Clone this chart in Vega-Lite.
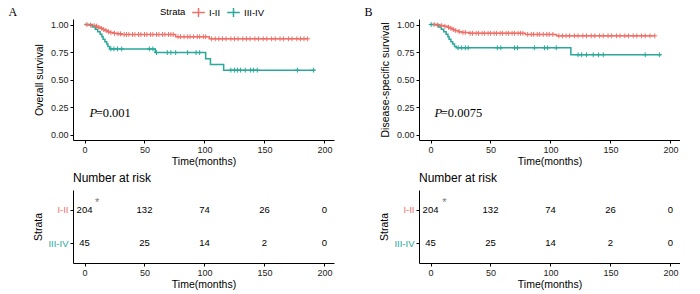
{
  "$schema": "https://vega.github.io/schema/vega-lite/v6.json",
  "background": "white",
  "padding": {"left": 8, "top": 5, "right": 0, "bottom": 0},
  "config": {
    "view": {"stroke": null},
    "font": "Liberation Sans",
    "axis": {"grid": false, "domainColor": "#000", "tickColor": "#000", "labelColor": "#222", "labelFontSize": 9, "titleFontSize": 10.5, "titleFontWeight": "normal", "titleColor": "#000", "tickSize": 3, "labelPadding": 2, "domainWidth": 1, "tickWidth": 1},
    "title": {"fontWeight": "normal", "color": "#000"}
  },
  "datasets": {
    "kmA": [
      {"t": 0, "s": 1.0, "strata": "I-II"}, {"t": 3, "s": 0.995, "strata": "I-II"}, {"t": 6, "s": 0.99, "strata": "I-II"}, {"t": 9, "s": 0.985, "strata": "I-II"}, {"t": 11, "s": 0.975, "strata": "I-II"}, {"t": 13, "s": 0.965, "strata": "I-II"}, {"t": 15, "s": 0.955, "strata": "I-II"}, {"t": 17, "s": 0.945, "strata": "I-II"}, {"t": 19, "s": 0.935, "strata": "I-II"}, {"t": 21, "s": 0.927, "strata": "I-II"}, {"t": 24, "s": 0.92, "strata": "I-II"}, {"t": 27, "s": 0.915, "strata": "I-II"}, {"t": 31, "s": 0.909, "strata": "I-II"}, {"t": 76, "s": 0.889, "strata": "I-II"}, {"t": 104, "s": 0.87, "strata": "I-II"}, {"t": 186, "s": 0.87, "strata": "I-II"},
      {"t": 0, "s": 1.0, "strata": "III-IV"}, {"t": 6.5, "s": 0.978, "strata": "III-IV"}, {"t": 9, "s": 0.956, "strata": "III-IV"}, {"t": 11, "s": 0.933, "strata": "III-IV"}, {"t": 13, "s": 0.911, "strata": "III-IV"}, {"t": 14.5, "s": 0.889, "strata": "III-IV"}, {"t": 15.5, "s": 0.867, "strata": "III-IV"}, {"t": 17, "s": 0.844, "strata": "III-IV"}, {"t": 18.5, "s": 0.822, "strata": "III-IV"}, {"t": 19.5, "s": 0.8, "strata": "III-IV"}, {"t": 21, "s": 0.778, "strata": "III-IV"}, {"t": 59, "s": 0.745, "strata": "III-IV"}, {"t": 101, "s": 0.688, "strata": "III-IV"}, {"t": 105, "s": 0.636, "strata": "III-IV"}, {"t": 116, "s": 0.585, "strata": "III-IV"}, {"t": 192, "s": 0.585, "strata": "III-IV"}
    ],
    "censA": [
      {"t": 2, "s": 1.0, "strata": "I-II"}, {"t": 5, "s": 0.995, "strata": "I-II"}, {"t": 8, "s": 0.99, "strata": "I-II"}, {"t": 10, "s": 0.985, "strata": "I-II"}, {"t": 12, "s": 0.975, "strata": "I-II"}, {"t": 14, "s": 0.965, "strata": "I-II"}, {"t": 16, "s": 0.955, "strata": "I-II"}, {"t": 18, "s": 0.945, "strata": "I-II"}, {"t": 20, "s": 0.935, "strata": "I-II"}, {"t": 22, "s": 0.927, "strata": "I-II"}, {"t": 25, "s": 0.92, "strata": "I-II"}, {"t": 28, "s": 0.915, "strata": "I-II"}, {"t": 30, "s": 0.915, "strata": "I-II"},
      {"t": 33, "s": 0.909, "strata": "I-II"}, {"t": 35, "s": 0.909, "strata": "I-II"}, {"t": 37, "s": 0.909, "strata": "I-II"}, {"t": 40, "s": 0.909, "strata": "I-II"}, {"t": 42, "s": 0.909, "strata": "I-II"}, {"t": 45, "s": 0.909, "strata": "I-II"}, {"t": 47, "s": 0.909, "strata": "I-II"}, {"t": 50, "s": 0.909, "strata": "I-II"}, {"t": 52, "s": 0.909, "strata": "I-II"}, {"t": 55, "s": 0.909, "strata": "I-II"}, {"t": 57, "s": 0.909, "strata": "I-II"}, {"t": 60, "s": 0.909, "strata": "I-II"}, {"t": 62, "s": 0.909, "strata": "I-II"}, {"t": 65, "s": 0.909, "strata": "I-II"}, {"t": 67, "s": 0.909, "strata": "I-II"}, {"t": 70, "s": 0.909, "strata": "I-II"}, {"t": 72, "s": 0.909, "strata": "I-II"}, {"t": 74, "s": 0.909, "strata": "I-II"},
      {"t": 78, "s": 0.889, "strata": "I-II"}, {"t": 80, "s": 0.889, "strata": "I-II"}, {"t": 83, "s": 0.889, "strata": "I-II"}, {"t": 86, "s": 0.889, "strata": "I-II"}, {"t": 88, "s": 0.889, "strata": "I-II"}, {"t": 91, "s": 0.889, "strata": "I-II"}, {"t": 94, "s": 0.889, "strata": "I-II"}, {"t": 96, "s": 0.889, "strata": "I-II"}, {"t": 99, "s": 0.889, "strata": "I-II"}, {"t": 101, "s": 0.889, "strata": "I-II"},
      {"t": 106, "s": 0.87, "strata": "I-II"}, {"t": 109, "s": 0.87, "strata": "I-II"}, {"t": 112, "s": 0.87, "strata": "I-II"}, {"t": 115, "s": 0.87, "strata": "I-II"}, {"t": 118, "s": 0.87, "strata": "I-II"}, {"t": 122, "s": 0.87, "strata": "I-II"}, {"t": 125, "s": 0.87, "strata": "I-II"}, {"t": 128, "s": 0.87, "strata": "I-II"}, {"t": 132, "s": 0.87, "strata": "I-II"}, {"t": 135, "s": 0.87, "strata": "I-II"}, {"t": 138, "s": 0.87, "strata": "I-II"}, {"t": 142, "s": 0.87, "strata": "I-II"}, {"t": 145, "s": 0.87, "strata": "I-II"}, {"t": 149, "s": 0.87, "strata": "I-II"}, {"t": 152, "s": 0.87, "strata": "I-II"}, {"t": 156, "s": 0.87, "strata": "I-II"}, {"t": 159, "s": 0.87, "strata": "I-II"}, {"t": 163, "s": 0.87, "strata": "I-II"}, {"t": 166, "s": 0.87, "strata": "I-II"}, {"t": 170, "s": 0.87, "strata": "I-II"}, {"t": 173, "s": 0.87, "strata": "I-II"}, {"t": 177, "s": 0.87, "strata": "I-II"}, {"t": 180, "s": 0.87, "strata": "I-II"}, {"t": 183, "s": 0.87, "strata": "I-II"}, {"t": 186, "s": 0.87, "strata": "I-II"},
      {"t": 22, "s": 0.778, "strata": "III-IV"}, {"t": 24.5, "s": 0.778, "strata": "III-IV"}, {"t": 27.5, "s": 0.778, "strata": "III-IV"}, {"t": 31, "s": 0.778, "strata": "III-IV"}, {"t": 54, "s": 0.778, "strata": "III-IV"}, {"t": 57, "s": 0.778, "strata": "III-IV"},
      {"t": 60, "s": 0.745, "strata": "III-IV"}, {"t": 69, "s": 0.745, "strata": "III-IV"}, {"t": 72, "s": 0.745, "strata": "III-IV"}, {"t": 76, "s": 0.745, "strata": "III-IV"}, {"t": 86, "s": 0.745, "strata": "III-IV"}, {"t": 93, "s": 0.745, "strata": "III-IV"}, {"t": 96, "s": 0.745, "strata": "III-IV"},
      {"t": 122, "s": 0.585, "strata": "III-IV"}, {"t": 125, "s": 0.585, "strata": "III-IV"}, {"t": 127.5, "s": 0.585, "strata": "III-IV"}, {"t": 130, "s": 0.585, "strata": "III-IV"}, {"t": 134, "s": 0.585, "strata": "III-IV"}, {"t": 138.5, "s": 0.585, "strata": "III-IV"}, {"t": 141, "s": 0.585, "strata": "III-IV"}, {"t": 144, "s": 0.585, "strata": "III-IV"}, {"t": 177.5, "s": 0.585, "strata": "III-IV"}, {"t": 191, "s": 0.585, "strata": "III-IV"}
    ],
    "kmB": [
      {"t": 0, "s": 1.0, "strata": "I-II"}, {"t": 5, "s": 0.995, "strata": "I-II"}, {"t": 8, "s": 0.99, "strata": "I-II"}, {"t": 11, "s": 0.983, "strata": "I-II"}, {"t": 14, "s": 0.975, "strata": "I-II"}, {"t": 16, "s": 0.965, "strata": "I-II"}, {"t": 18, "s": 0.955, "strata": "I-II"}, {"t": 20, "s": 0.945, "strata": "I-II"}, {"t": 23, "s": 0.935, "strata": "I-II"}, {"t": 26, "s": 0.928, "strata": "I-II"}, {"t": 32, "s": 0.92, "strata": "I-II"}, {"t": 79, "s": 0.91, "strata": "I-II"}, {"t": 105, "s": 0.897, "strata": "I-II"}, {"t": 187, "s": 0.897, "strata": "I-II"},
      {"t": 0, "s": 1.0, "strata": "III-IV"}, {"t": 6.7, "s": 0.978, "strata": "III-IV"}, {"t": 9, "s": 0.956, "strata": "III-IV"}, {"t": 11, "s": 0.933, "strata": "III-IV"}, {"t": 13, "s": 0.911, "strata": "III-IV"}, {"t": 14.5, "s": 0.889, "strata": "III-IV"}, {"t": 15.5, "s": 0.867, "strata": "III-IV"}, {"t": 17, "s": 0.844, "strata": "III-IV"}, {"t": 18.5, "s": 0.822, "strata": "III-IV"}, {"t": 20, "s": 0.8, "strata": "III-IV"}, {"t": 21.5, "s": 0.788, "strata": "III-IV"}, {"t": 117, "s": 0.725, "strata": "III-IV"}, {"t": 192, "s": 0.725, "strata": "III-IV"}
    ],
    "censB": [
      {"t": 3, "s": 1.0, "strata": "I-II"}, {"t": 6, "s": 0.995, "strata": "I-II"}, {"t": 9, "s": 0.99, "strata": "I-II"}, {"t": 12, "s": 0.983, "strata": "I-II"}, {"t": 15, "s": 0.975, "strata": "I-II"}, {"t": 17, "s": 0.965, "strata": "I-II"}, {"t": 19, "s": 0.955, "strata": "I-II"}, {"t": 21, "s": 0.945, "strata": "I-II"}, {"t": 24, "s": 0.935, "strata": "I-II"}, {"t": 27, "s": 0.928, "strata": "I-II"}, {"t": 29, "s": 0.928, "strata": "I-II"},
      {"t": 33, "s": 0.92, "strata": "I-II"}, {"t": 35, "s": 0.92, "strata": "I-II"}, {"t": 38, "s": 0.92, "strata": "I-II"}, {"t": 40, "s": 0.92, "strata": "I-II"}, {"t": 43, "s": 0.92, "strata": "I-II"}, {"t": 45, "s": 0.92, "strata": "I-II"}, {"t": 48, "s": 0.92, "strata": "I-II"}, {"t": 50, "s": 0.92, "strata": "I-II"}, {"t": 53, "s": 0.92, "strata": "I-II"}, {"t": 55, "s": 0.92, "strata": "I-II"}, {"t": 58, "s": 0.92, "strata": "I-II"}, {"t": 60, "s": 0.92, "strata": "I-II"}, {"t": 63, "s": 0.92, "strata": "I-II"}, {"t": 65, "s": 0.92, "strata": "I-II"}, {"t": 68, "s": 0.92, "strata": "I-II"}, {"t": 70, "s": 0.92, "strata": "I-II"}, {"t": 73, "s": 0.92, "strata": "I-II"}, {"t": 75, "s": 0.92, "strata": "I-II"}, {"t": 77, "s": 0.92, "strata": "I-II"},
      {"t": 81, "s": 0.91, "strata": "I-II"}, {"t": 84, "s": 0.91, "strata": "I-II"}, {"t": 86, "s": 0.91, "strata": "I-II"}, {"t": 89, "s": 0.91, "strata": "I-II"}, {"t": 91, "s": 0.91, "strata": "I-II"}, {"t": 94, "s": 0.91, "strata": "I-II"}, {"t": 97, "s": 0.91, "strata": "I-II"}, {"t": 99, "s": 0.91, "strata": "I-II"}, {"t": 102, "s": 0.91, "strata": "I-II"},
      {"t": 107, "s": 0.897, "strata": "I-II"}, {"t": 110, "s": 0.897, "strata": "I-II"}, {"t": 113, "s": 0.897, "strata": "I-II"}, {"t": 116, "s": 0.897, "strata": "I-II"}, {"t": 120, "s": 0.897, "strata": "I-II"}, {"t": 123, "s": 0.897, "strata": "I-II"}, {"t": 127, "s": 0.897, "strata": "I-II"}, {"t": 130, "s": 0.897, "strata": "I-II"}, {"t": 134, "s": 0.897, "strata": "I-II"}, {"t": 137, "s": 0.897, "strata": "I-II"}, {"t": 141, "s": 0.897, "strata": "I-II"}, {"t": 144, "s": 0.897, "strata": "I-II"}, {"t": 148, "s": 0.897, "strata": "I-II"}, {"t": 151, "s": 0.897, "strata": "I-II"}, {"t": 155, "s": 0.897, "strata": "I-II"}, {"t": 158, "s": 0.897, "strata": "I-II"}, {"t": 162, "s": 0.897, "strata": "I-II"}, {"t": 165, "s": 0.897, "strata": "I-II"}, {"t": 169, "s": 0.897, "strata": "I-II"}, {"t": 172, "s": 0.897, "strata": "I-II"}, {"t": 176, "s": 0.897, "strata": "I-II"}, {"t": 179, "s": 0.897, "strata": "I-II"}, {"t": 183, "s": 0.897, "strata": "I-II"}, {"t": 187, "s": 0.897, "strata": "I-II"},
      {"t": 0.5, "s": 1.0, "strata": "III-IV"},
      {"t": 23, "s": 0.788, "strata": "III-IV"}, {"t": 26, "s": 0.788, "strata": "III-IV"}, {"t": 29, "s": 0.788, "strata": "III-IV"}, {"t": 31.4, "s": 0.788, "strata": "III-IV"}, {"t": 55.7, "s": 0.788, "strata": "III-IV"}, {"t": 58.6, "s": 0.788, "strata": "III-IV"}, {"t": 70, "s": 0.788, "strata": "III-IV"}, {"t": 72.5, "s": 0.788, "strata": "III-IV"}, {"t": 86.6, "s": 0.788, "strata": "III-IV"}, {"t": 95, "s": 0.788, "strata": "III-IV"}, {"t": 97.7, "s": 0.788, "strata": "III-IV"}, {"t": 104.8, "s": 0.788, "strata": "III-IV"},
      {"t": 123, "s": 0.725, "strata": "III-IV"}, {"t": 126, "s": 0.725, "strata": "III-IV"}, {"t": 130, "s": 0.725, "strata": "III-IV"}, {"t": 135.6, "s": 0.725, "strata": "III-IV"}, {"t": 140, "s": 0.725, "strata": "III-IV"}, {"t": 144, "s": 0.725, "strata": "III-IV"}, {"t": 179, "s": 0.725, "strata": "III-IV"}, {"t": 191, "s": 0.725, "strata": "III-IV"}
    ],
    "risk": [
      {"t": 0, "strata": "I-II", "n": 204}, {"t": 50, "strata": "I-II", "n": 132}, {"t": 100, "strata": "I-II", "n": 74}, {"t": 150, "strata": "I-II", "n": 26}, {"t": 200, "strata": "I-II", "n": 0},
      {"t": 0, "strata": "III-IV", "n": 45}, {"t": 50, "strata": "III-IV", "n": 25}, {"t": 100, "strata": "III-IV", "n": 14}, {"t": 150, "strata": "III-IV", "n": 2}, {"t": 200, "strata": "III-IV", "n": 0}
    ]
  },
  "spacing": 30,
  "hconcat": [
    {
      "spacing": 5,
      "vconcat": [
        {
          "width": 261, "height": 121,
          "title": {"text": "A", "anchor": "start", "frame": "bounds", "font": "Liberation Serif", "fontSize": 12, "fontWeight": "normal", "dx": -26, "offset": 0},
          "encoding": {
            "x": {"field": "t", "type": "quantitative", "scale": {"domain": [-9.6, 208], "nice": false, "zero": false}, "axis": {"values": [0, 50, 100, 150, 200], "title": "Time(months)", "titlePadding": 2}},
            "y": {"field": "s", "type": "quantitative", "scale": {"domain": [-0.05, 1.05], "nice": false, "zero": false}, "axis": {"values": [0, 0.25, 0.5, 0.75, 1], "format": ".2f", "title": "Overall survival", "titlePadding": 6, "labelOverlap": false}}
          },
          "layer": [
            {
              "data": {"name": "kmA"},
              "mark": {"type": "line", "interpolate": "step-after", "strokeWidth": 1.5},
              "encoding": {
                "color": {"field": "strata", "type": "nominal", "scale": {"domain": ["I-II", "III-IV"], "range": ["#F07068", "#2AA89B"]},
                  "legend": {"orient": "none", "legendX": 87, "legendY": -14, "direction": "horizontal", "title": "Strata", "titleOrient": "left", "titleFontSize": 9.5, "titleFontWeight": "normal", "titleColor": "#000", "labelFontSize": 9.5, "labelColor": "#000", "symbolType": "M-1,0L1,0M0,-0.7L0,0.7", "symbolSize": 160, "symbolStrokeWidth": 1.5, "symbolFillColor": "transparent", "columnPadding": 3, "labelOffset": 3, "titlePadding": 5}}
              }
            },
            {
              "data": {"name": "censA"},
              "mark": {"type": "point", "shape": "M-1,0L1,0M0,-1L0,1", "filled": false, "size": 24, "strokeWidth": 1, "opacity": 1},
              "encoding": {"color": {"field": "strata", "type": "nominal"}}
            },
            {
              "data": {"values": [{"t": 4.2, "s": 0.2, "label": "P"}]},
              "mark": {"type": "text", "font": "Liberation Serif", "fontStyle": "italic", "fontSize": 12.5, "align": "left", "baseline": "middle", "color": "#000"},
              "encoding": {"text": {"field": "label"}}
            },
            {
              "data": {"values": [{"t": 9.3, "s": 0.2, "label": "=0.001"}]},
              "mark": {"type": "text", "font": "Liberation Serif", "fontSize": 12.5, "align": "left", "baseline": "middle", "color": "#000"},
              "encoding": {"text": {"field": "label"}}
            }
          ]
        },
        {
          "width": 261, "height": 73,
          "title": {"text": "Number at risk", "anchor": "start", "frame": "group", "fontSize": 12, "fontWeight": "normal", "offset": 5, "color": "#000"},
          "encoding": {
            "x": {"field": "t", "type": "quantitative", "scale": {"domain": [-9.6, 208], "nice": false, "zero": false}, "axis": {"values": [0, 50, 100, 150, 200], "title": "Time(months)", "titlePadding": 2}},
            "y": {"field": "strata", "type": "nominal", "scale": {"type": "point", "padding": 0.6, "domain": ["I-II", "III-IV"]}, "axis": {"title": "Strata", "titlePadding": 4, "labelFontSize": 9.5, "labelColor": {"condition": {"test": "datum.value === 'I-II'", "value": "#F07068"}, "value": "#2AA89B"}}}
          },
          "layer": [
            {
              "data": {"name": "risk"},
              "mark": {"type": "text", "fontSize": 9.5, "color": "#000"},
              "encoding": {"text": {"field": "n", "type": "quantitative"}}
            },
            {
              "data": {"values": [{"t": 10.5, "strata": "I-II"}]},
              "mark": {"type": "text", "text": "*", "dy": -7, "color": "#777", "fontSize": 11}
            }
          ]
        }
      ]
    },
    {
      "spacing": 5,
      "vconcat": [
        {
          "width": 261, "height": 121,
          "title": {"text": "B", "anchor": "start", "frame": "bounds", "font": "Liberation Serif", "fontSize": 12, "fontWeight": "normal", "dx": -16, "offset": 0},
          "encoding": {
            "x": {"field": "t", "type": "quantitative", "scale": {"domain": [-9.6, 208], "nice": false, "zero": false}, "axis": {"values": [0, 50, 100, 150, 200], "title": "Time(months)", "titlePadding": 2}},
            "y": {"field": "s", "type": "quantitative", "scale": {"domain": [-0.05, 1.05], "nice": false, "zero": false}, "axis": {"values": [0, 0.25, 0.5, 0.75, 1], "format": ".2f", "title": "Disease-specific survival", "titlePadding": 6, "labelOverlap": false}}
          },
          "layer": [
            {
              "data": {"name": "kmB"},
              "mark": {"type": "line", "interpolate": "step-after", "strokeWidth": 1.5},
              "encoding": {
                "color": {"field": "strata", "type": "nominal", "scale": {"domain": ["I-II", "III-IV"], "range": ["#F07068", "#2AA89B"]},
                  "legend": {"orient": "none", "legendX": 87, "legendY": -14, "direction": "horizontal", "title": "Strata", "titleOrient": "left", "titleFontSize": 9.5, "titleFontWeight": "normal", "titleColor": "#000", "labelFontSize": 9.5, "labelColor": "#000", "symbolType": "M-1,0L1,0M0,-0.7L0,0.7", "symbolSize": 160, "symbolStrokeWidth": 1.5, "symbolFillColor": "transparent", "columnPadding": 3, "labelOffset": 3, "titlePadding": 5}}
              }
            },
            {
              "data": {"name": "censB"},
              "mark": {"type": "point", "shape": "M-1,0L1,0M0,-1L0,1", "filled": false, "size": 24, "strokeWidth": 1, "opacity": 1},
              "encoding": {"color": {"field": "strata", "type": "nominal"}}
            },
            {
              "data": {"values": [{"t": 3.4, "s": 0.2, "label": "P"}]},
              "mark": {"type": "text", "font": "Liberation Serif", "fontStyle": "italic", "fontSize": 12.5, "align": "left", "baseline": "middle", "color": "#000"},
              "encoding": {"text": {"field": "label"}}
            },
            {
              "data": {"values": [{"t": 8.5, "s": 0.2, "label": "=0.0075"}]},
              "mark": {"type": "text", "font": "Liberation Serif", "fontSize": 12.5, "align": "left", "baseline": "middle", "color": "#000"},
              "encoding": {"text": {"field": "label"}}
            }
          ]
        },
        {
          "width": 261, "height": 73,
          "title": {"text": "Number at risk", "anchor": "start", "frame": "group", "fontSize": 12, "fontWeight": "normal", "offset": 5, "color": "#000"},
          "encoding": {
            "x": {"field": "t", "type": "quantitative", "scale": {"domain": [-9.6, 208], "nice": false, "zero": false}, "axis": {"values": [0, 50, 100, 150, 200], "title": "Time(months)", "titlePadding": 2}},
            "y": {"field": "strata", "type": "nominal", "scale": {"type": "point", "padding": 0.6, "domain": ["I-II", "III-IV"]}, "axis": {"title": "Strata", "titlePadding": 4, "labelFontSize": 9.5, "labelColor": {"condition": {"test": "datum.value === 'I-II'", "value": "#F07068"}, "value": "#2AA89B"}}}
          },
          "layer": [
            {
              "data": {"name": "risk"},
              "mark": {"type": "text", "fontSize": 9.5, "color": "#000"},
              "encoding": {"text": {"field": "n", "type": "quantitative"}}
            },
            {
              "data": {"values": [{"t": 11.5, "strata": "I-II"}]},
              "mark": {"type": "text", "text": "*", "dy": -7, "color": "#777", "fontSize": 11}
            }
          ]
        }
      ]
    }
  ]
}
